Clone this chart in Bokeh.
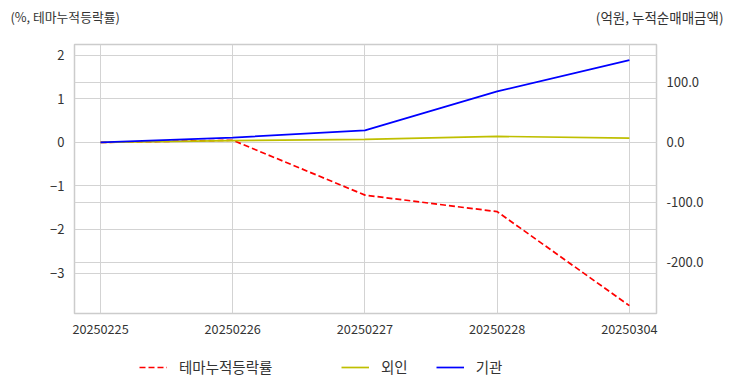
from bokeh.plotting import figure
from bokeh.models import (Range1d, LinearAxis, FixedTicker, NumeralTickFormatter, Grid,
                          Legend, LegendItem, Label)
from bokeh.embed import file_html
from bokeh.resources import INLINE

dates = ["20250225", "20250226", "20250227", "20250228", "20250304"]
theme_pct = [0.0, 0.05, -1.21, -1.59, -3.75]
foreign = [0.0, 3.0, 5.0, 10.0, 7.0]
institution = [0.0, 8.0, 20.0, 85.0, 137.0]
left_ticks = [-3, -2, -1, 0, 1, 2]
right_ticks = [-200, -100, 0, 100]
left_title = "(%, 테마누적등락률)"
right_title = "(억원, 누적순매매금액)"
series_names = ["테마누적등락률", "외인", "기관"]

FONT = "Noto Sans CJK KR"
TXT = "#333333"
GRID = "#d3d3d3"
RED, YEL, BLUE = "#ff0000", "#bfbf00", "#0000ff"
W = 732

xs = list(range(len(dates)))
nan = float("nan")


def blank(height):
    f = figure(width=W, height=height, output_backend="svg", toolbar_location=None,
               x_range=Range1d(0, 1), y_range=Range1d(0, 1),
               min_border=0, min_border_left=0, min_border_right=0,
               min_border_top=0, min_border_bottom=0)
    f.axis.visible = False
    f.grid.visible = False
    f.outline_line_color = None
    f.background_fill_color = "white"
    f.border_fill_color = "white"
    return f


# ---- header with the two axis titles
head = blank(30)
head.add_layout(Label(x=10, y=14, x_units="screen", y_units="screen", text=left_title,
                      text_font=FONT, text_font_size="12.8px", text_color=TXT,
                      text_baseline="middle", text_align="left"))
head.add_layout(Label(x=723, y=14, x_units="screen", y_units="screen", text=right_title,
                      text_font=FONT, text_font_size="13.5px", text_color=TXT,
                      text_baseline="middle", text_align="right"))

# ---- main chart
p = figure(width=W, height=310, output_backend="svg", toolbar_location=None,
           x_range=Range1d(-0.197, 4.205), y_range=Range1d(-3.93, 2.25),
           min_border_left=74, min_border_right=76, min_border_top=14, min_border_bottom=27)
p.extra_y_ranges = {"right": Range1d(-285, 163)}

p.outline_line_color = "#cccccc"
p.outline_line_width = 1.5
p.background_fill_color = "white"
p.border_fill_color = "white"

p.xaxis.ticker = FixedTicker(ticks=xs)
p.xaxis.major_label_overrides = {i: d for i, d in enumerate(dates)}
p.yaxis.ticker = FixedTicker(ticks=left_ticks)

ra = LinearAxis(y_range_name="right", ticker=FixedTicker(ticks=right_ticks),
                formatter=NumeralTickFormatter(format="0.0"))
p.add_layout(ra, "right")

for ax in [p.xaxis[0], p.yaxis[0], ra]:
    ax.axis_line_color = None
    ax.major_tick_line_color = None
    ax.minor_tick_line_color = None
    ax.major_label_text_font = FONT
    ax.major_label_text_font_size = "13px"
    ax.major_label_text_color = TXT
    ax.major_label_standoff = 4
p.xaxis[0].major_label_text_font_size = "12.7px"

p.xgrid.grid_line_color = GRID
p.ygrid.grid_line_color = GRID
p.add_layout(Grid(dimension=1, ticker=ra.ticker, y_range_name="right", grid_line_color=GRID))

p.line(xs, theme_pct, line_color=RED, line_width=1.7, line_dash="6 3")
p.line(xs, foreign, line_color=YEL, line_width=1.7, y_range_name="right")
p.line(xs, institution, line_color=BLUE, line_width=1.7, y_range_name="right")

# ---- footer with legends (legend-only line renderers with a single NaN point)
foot = blank(52)
l_theme = foot.line([nan], [nan], line_color=RED, line_width=1.7, line_dash="6 3")
l_for = foot.line([nan], [nan], line_color=YEL, line_width=1.7)
l_inst = foot.line([nan], [nan], line_color=BLUE, line_width=1.7)


def mk_legend(items, loc):
    lg = Legend(items=items, location=loc, orientation="horizontal",
                border_line_color=None, background_fill_alpha=0, padding=0, margin=0,
                glyph_width=28, glyph_height=16, label_standoff=12, spacing=28,
                label_text_font=FONT, label_text_font_size="14.5px", label_text_color=TXT,
                label_height=16)
    foot.add_layout(lg, "center")


mk_legend([LegendItem(label=series_names[0], renderers=[l_theme])], (139, 15))
mk_legend([LegendItem(label=series_names[1], renderers=[l_for]),
           LegendItem(label=series_names[2], renderers=[l_inst])], (341, 15))

open("out.html", "w").write(file_html([head, p, foot], INLINE))
